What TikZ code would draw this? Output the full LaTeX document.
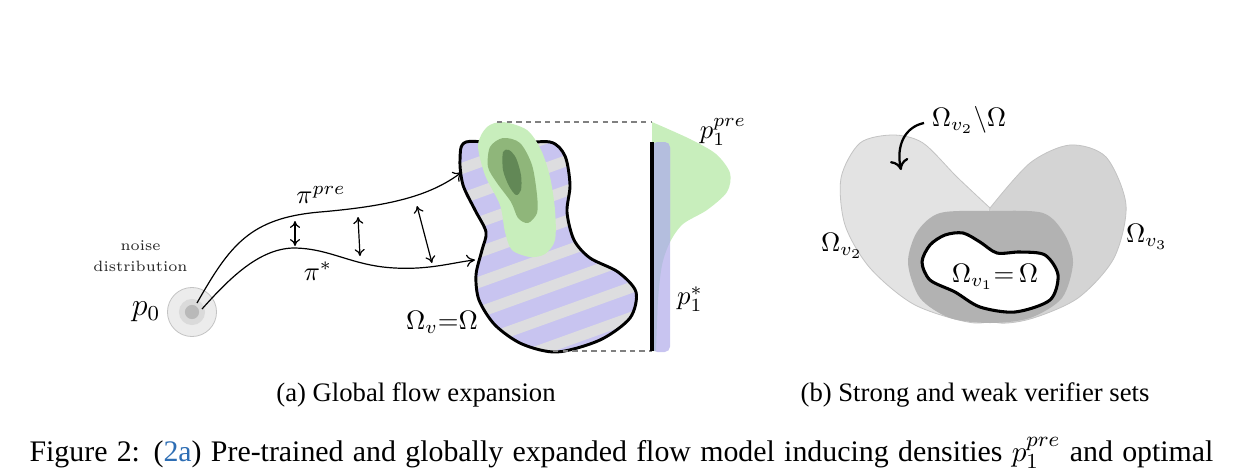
\documentclass[tikz,border=0pt]{standalone}
\usepackage{fontspec}
\newfontfamily\capfont{Liberation Serif}
\usetikzlibrary{arrows.meta}
\definecolor{lav}{RGB}{200,196,240}
\definecolor{stripe}{RGB}{221,221,223}
\definecolor{gA}{RGB}{200,238,188}
\definecolor{gB}{RGB}{143,182,122}
\definecolor{gC}{RGB}{98,136,86}
\definecolor{overlap}{RGB}{180,190,222}
\definecolor{lobeL}{RGB}{227,227,227}
\definecolor{lobeR}{RGB}{212,212,212}
\definecolor{lobeEdge}{RGB}{195,195,195}
\definecolor{midG}{RGB}{178,178,178}
\definecolor{linkblue}{RGB}{46,110,180}
\definecolor{cOut}{RGB}{236,236,236}
\definecolor{cMid}{RGB}{218,218,218}
\definecolor{cIn}{RGB}{185,185,185}
\tikzset{
  flowline/.style={line width=0.45pt,-{To[length=3.2pt,width=4.6pt]}},
  gaparrow/.style={line width=0.45pt,{To[length=2.6pt,width=3.8pt]}-{To[length=2.6pt,width=3.8pt]}},
  lbl/.style={inner sep=0pt},
  captext/.style={inner sep=0pt,font=\capfont},
  guideline/.style={gray,line width=0.4pt,dash pattern=on 2pt off 1.6pt},
  disc/.style={circle,inner sep=0pt}
}
\begin{document}
\begin{tikzpicture}[x=0.375pt,y=-0.375pt]
\useasboundingbox (0,0) rectangle (1251,472);

% ---------------- (a) ----------------
% noise source
\node[disc,minimum size=18.4pt,fill=cOut,draw=lobeEdge,line width=0.3pt] (p0) at (192,312) {};
\node[disc,minimum size=9.8pt,fill=cMid] (p0m) at (192,312) {};
\node[disc,minimum size=5.3pt,fill=cIn] (p0i) at (192,312) {};
\node[lbl,font=\large] (p0lab) at (146,312) {$p_0$};
\node[lbl,font=\fontsize{5.6}{7.6}\selectfont,align=center,text=black!85] (noise) at (140.5,256) {noise\\distribution};

% target domain with stripes
\def\dom{(466,142) (510,144) (550,142) (565,156) (570,185) (567,212) (574,240) (590,258) (618,272) (636,292) (630,318) (600,340) (557,352) (522,344) (495,325) (479,300) (476,275) (482,250) (486,232) (475,210) (463,185) (460,160)}
\begin{scope}
  \clip plot[smooth cycle] coordinates {\dom};
  \fill[lav] (440,100) rectangle (660,370);
  \foreach \k in {-8,...,4}
    \draw[stripe,line width=4.1pt] (440,{296.3+30*\k}) -- (660,{217.1+30*\k});
\end{scope}
\draw[line width=1.1pt] plot[smooth cycle] coordinates {\dom};

% green density blobs
\fill[gA] plot[smooth cycle] coordinates {(478,145) (487,127) (503,122) (527,130) (541,150) (550,177) (555,210) (555,240) (545,254) (530,257) (512,250) (505,232) (500,205) (485,175)};
\fill[gB] plot[smooth cycle] coordinates {(490,147) (503,138) (520,143) (532,165) (537,195) (537,213) (528,223) (518,218) (511,202) (497,183) (488,167)};
\fill[gC] plot[smooth cycle] coordinates {(503,152) (509,150) (516,158) (521,175) (521,190) (516,195) (509,186) (503,170)};

% flows
\coordinate (sPre) at (197,303);
\coordinate (sOpt) at (202,309);
\coordinate (ePre) at (462,172);
\coordinate (eOpt) at (475,260);
\draw[flowline] (sPre) .. controls (230,245) and (250,218) .. (320,212) .. controls (390,206) and (430,196) .. (ePre);
\draw[flowline] (sOpt) .. controls (228,280) and (258,249) .. (293,248) .. controls (330,248) and (352,266) .. (395,268) .. controls (430,270) and (455,262) .. (eOpt);
\node[lbl] (piPre) at (321,195) {$\pi^{pre}$};
\node[lbl] (piOpt) at (318,271) {$\pi^{*}$};

\coordinate (g1a) at (295,221); \coordinate (g1b) at (295,246);
\coordinate (g2a) at (358,217); \coordinate (g2b) at (360,256);
\coordinate (g3a) at (417,206); \coordinate (g3b) at (432,263);
\draw[gaparrow] (g1a) -- (g1b);
\draw[gaparrow] (g2a) -- (g2b);
\draw[gaparrow] (g3a) -- (g3b);

\node[lbl] (omv) at (442,322) {$\Omega_v{=}\Omega$};

% projection guides
\coordinate (tTop) at (497,122); \coordinate (aTop) at (652,122);
\coordinate (tBot) at (553,351); \coordinate (aBot) at (652,351);
\draw[guideline] (tTop) -- (aTop);
\draw[guideline] (tBot) -- (aBot);

% marginal densities
\def\gden{plot[smooth] coordinates {(652,122) (690,139) (716,154) (730,173) (727,192) (707,210) (683,224) (670,242) (662,265) (658,300) (656,351)} -- (652,351) -- cycle}
\fill[gA] \gden;
\fill[lav,rounded corners=2pt] (652,142) rectangle (670,352);
\begin{scope}
  \clip \gden;
  \fill[overlap,rounded corners=2pt] (652,142) rectangle (670,352);
\end{scope}
\coordinate (axT) at (652,142); \coordinate (axB) at (652,351);
\draw[line width=1.5pt] (axT) -- (axB);
\node[lbl] (ppre) at (723,132) {$p_1^{pre}$};
\node[lbl] (pstar) at (690,299) {$p_1^{*}$};

% ---------------- (b) ----------------
\fill[lobeL,draw=lobeEdge,line width=0.3pt] plot[smooth] coordinates {(990,208) (957,177) (923,143) (893,135) (860,143) (841,178) (845,225) (870,268) (915,305) (975,323) (1000,310) (1000,250) (990,208)} -- cycle;
\fill[lobeR,draw=lobeEdge,line width=0.3pt] plot[smooth] coordinates {(990,208) (1030,163) (1070,145) (1106,157) (1126,205) (1114,258) (1078,298) (1030,319) (995,322) (985,300) (985,250) (990,208)} -- cycle;
\fill[midG] plot[smooth cycle] coordinates {(940,213) (990,211) (1043,213) (1065,235) (1073,263) (1062,298) (1030,318) (990,323) (950,318) (920,298) (908,263) (917,232)};
\draw[line width=1.15pt,fill=white] plot[smooth cycle] coordinates {(922,262) (930,245) (945,235) (963,233) (980,242) (997,253) (1020,252) (1045,255) (1058,275) (1050,300) (1015,312) (980,307) (955,292) (930,280)};

\node[lbl] (omv1) at (995,277) {$\Omega_{v_1}{=}\,\Omega$};
\node[lbl] (omv2) at (842,246) {$\Omega_{v_2}$};
\node[lbl] (omv3) at (1147,237) {$\Omega_{v_3}$};
\node[lbl] (diff) at (969,120) {$\Omega_{v_2}\backslash\Omega$};
\coordinate (dA) at (924,123);
\coordinate (dB) at (901,170);
\draw[line width=0.85pt,-{To[length=4pt,width=7pt]}] (dA) .. controls (905,127) and (896,145) .. (dB);

% ---------------- captions ----------------
\node[captext,anchor=base] (capa) at (416,401) {(a) Global flow expansion};
\node[captext,anchor=base] (capb) at (975,401) {(b) Strong and weak verifier sets};
\node[captext,anchor=base west,font=\capfont\fontsize{11.2}{13}\selectfont] (fig) at (29,461) {\makebox[444pt][s]{Figure 2: (\textcolor{linkblue}{2a}) Pre-trained and globally expanded flow model inducing densities $p_1^{pre}$ and optimal}};
\end{tikzpicture}
\end{document}
